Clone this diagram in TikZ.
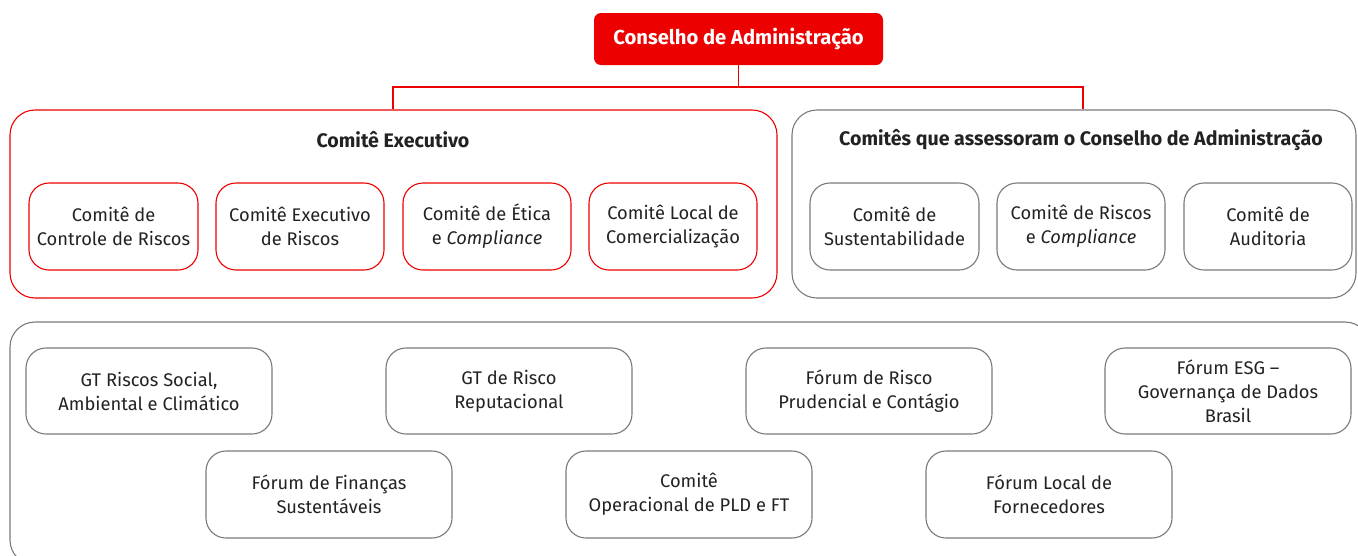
\documentclass[tikz,border=0pt]{standalone}
\usepackage{fontspec}
\setmainfont{Fira Sans}
\definecolor{sred}{HTML}{EC0000}
\definecolor{sgray}{HTML}{7A7A7A}
\definecolor{stext}{HTML}{222222}
\begin{document}
\begin{tikzpicture}[x=1pt,y=-1pt,
  box/.style={draw, line width=1.1pt, rounded corners=20pt, align=center, text=stext,
    font=\fontsize{18.3}{24}\selectfont, inner sep=0pt},
  redbox/.style={box, draw=sred},
  graybox/.style={box, draw=sgray},
  conn/.style={draw=sred, line width=1.1pt},
  title/.style={font=\fontsize{19.6}{22}\selectfont\bfseries, text=stext}
]
\useasboundingbox (0,0) rectangle (1358,555);
\begin{scope}
\clip (0,0) rectangle (1358,555);
% top
\node[fill=sred, rounded corners=7pt, minimum width=289pt, minimum height=52pt, inner sep=0pt,
  text=white, font=\fontsize{20.2}{22}\selectfont\bfseries] (cons) at (738.5,39) {Conselho de Administração};
% groups
\node[redbox, rounded corners=25pt, minimum width=767pt, minimum height=188pt] (exec) at (393.5,204) {};
\node[graybox, rounded corners=25pt, minimum width=564pt, minimum height=188pt] (adv) at (1074,204) {};
\node[graybox, rounded corners=25pt, minimum width=1360pt, minimum height=243pt] (bot) at (690,443.5) {};
\coordinate (jl) at (393,87);
\coordinate (jr) at (1083,87);
\coordinate (jm) at (738.5,87);
\draw[conn] (cons.south) -- (jm);
\draw[conn] (exec.north -| jl) -- (jl) -- (jr) -- (adv.north -| jr);
% titles
\node[title] (texec) at (393,140) {Comitê Executivo};
\node[title] (tadv) at (1081,140) {Comitês que assessoram o Conselho de Administração};
% exec inner
\node[redbox, minimum width=169pt, minimum height=87pt] (e1) at (113.5,226.5) {Comitê de\\Controle de Riscos};
\node[redbox, minimum width=168pt, minimum height=87pt] (e2) at (300,226.5) {Comitê Executivo\\de Riscos};
\node[redbox, minimum width=168pt, minimum height=87pt] (e3) at (487,226.5) {Comitê de Ética\\e \textit{Compliance}};
\node[redbox, minimum width=168pt, minimum height=87pt] (e4) at (673,226.5) {Comitê Local de\\Comercialização};
% advisory inner
\node[graybox, minimum width=169pt, minimum height=87pt] (a1) at (894.5,226.5) {Comitê de\\Sustentabilidade};
\node[graybox, minimum width=168pt, minimum height=87pt] (a2) at (1081,226.5) {Comitê de Riscos\\e \textit{Compliance}};
\node[graybox, minimum width=168pt, minimum height=87pt] (a3) at (1268,226.5) {Comitê de\\Auditoria};
% bottom row 1
\node[graybox, minimum width=246pt, minimum height=86pt] (b1) at (149,391) {GT Riscos Social,\\Ambiental e Climático};
\node[graybox, minimum width=246pt, minimum height=86pt] (b2) at (509,391) {GT de Risco\\Reputacional};
\node[graybox, minimum width=246pt, minimum height=86pt] (b3) at (869,391) {Fórum de Risco\\Prudencial e Contágio};
\node[graybox, minimum width=246pt, minimum height=86pt] (b4) at (1228,391) {Fórum ESG –\\Governança de Dados\\Brasil};
% bottom row 2
\node[graybox, minimum width=246pt, minimum height=87pt] (c1) at (329,494.5) {Fórum de Finanças\\Sustentáveis};
\node[graybox, minimum width=246pt, minimum height=87pt] (c2) at (689,494.5) {Comitê\\Operacional de PLD e FT};
\node[graybox, minimum width=246pt, minimum height=87pt] (c3) at (1049,494.5) {Fórum Local de\\Fornecedores};
\end{scope}
\end{tikzpicture}
\end{document}
